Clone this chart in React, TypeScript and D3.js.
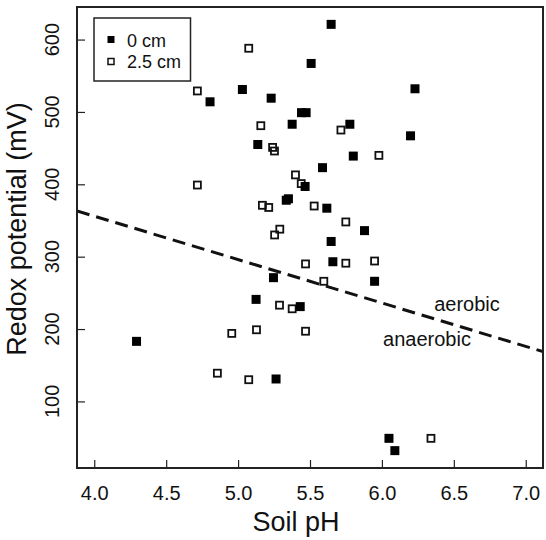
import React, { useEffect, useRef } from 'react';
import * as d3 from 'd3';

// 0 cm depth (filled squares): soil pH, redox potential (mV)
const phTop = [4.805, 5.03, 5.23, 5.137, 5.647, 5.508, 6.23, 5.441, 5.473, 5.376, 5.777, 6.199, 5.801, 5.587, 5.466, 5.335, 5.35, 5.617, 5.879, 5.647, 5.659, 5.246, 5.949, 5.432, 5.125, 4.294, 5.264, 6.049, 6.09];
const ehTop = [514, 531, 519, 455, 621, 567, 532, 499, 499, 483, 483, 467, 439, 423, 397, 378, 380, 367, 336, 321, 293, 271, 266, 231, 241, 183, 131, 49, 32];

// 2.5 cm depth (open squares)
const phDeep = [5.074, 4.717, 5.158, 5.24, 5.253, 4.717, 5.169, 5.213, 5.254, 5.29, 5.715, 5.979, 5.399, 5.439, 5.529, 5.749, 5.469, 5.749, 5.949, 5.596, 5.288, 5.376, 5.469, 4.956, 5.128, 4.856, 5.074, 6.341];
const ehDeep = [588, 529, 481, 451, 446, 399, 371, 368, 330, 338, 475, 440, 413, 401, 370, 348, 290, 291, 294, 266, 233, 228, 197, 194, 199, 139, 130, 49];

const xTicks = [4.0, 4.5, 5.0, 5.5, 6.0, 6.5, 7.0];
const yTicks = [100, 200, 300, 400, 500, 600];

// aerobic / anaerobic boundary: Eh = intercept + slope * pH
const lineIntercept = 596;
const lineSlope = -60;

const FONT = 'Liberation Sans, Arial, Helvetica, sans-serif';

const App = () => {
  const ref = useRef<SVGSVGElement>(null);

  useEffect(() => {
    const svg = d3.select(ref.current);
    svg.selectAll('*').remove();

    const left = 77, right = 543, top = 7, bottom = 468;

    const x = d3.scaleLinear().domain([3.88, 7.12]).range([left, right]);
    const y = d3.scaleLinear().domain([8, 645]).range([bottom, top]);

    svg.append('defs').append('clipPath').attr('id', 'plot-clip')
      .append('rect')
      .attr('x', left).attr('y', top)
      .attr('width', right - left).attr('height', bottom - top);

    // x axis, ticks pointing inward
    const xAxis = svg.append('g')
      .attr('transform', `translate(0,${bottom})`)
      .call(d3.axisBottom(x).tickValues(xTicks).tickFormat(d3.format('.1f')).tickSize(-8).tickPadding(18));
    xAxis.select('.domain').remove();
    xAxis.selectAll('line').attr('stroke', '#222').attr('stroke-width', 1.2);
    xAxis.selectAll('text')
      .attr('font-family', FONT).attr('font-size', 20).attr('fill', '#111');

    // y axis, ticks inward, labels rotated
    const yAxis = svg.append('g')
      .attr('transform', `translate(${left},0)`)
      .call(d3.axisLeft(y).tickValues(yTicks).tickSize(-8).tickFormat(() => ''));
    yAxis.select('.domain').remove();
    yAxis.selectAll('line').attr('stroke', '#222').attr('stroke-width', 1.2);

    svg.append('g').selectAll('text')
      .data(yTicks)
      .enter()
      .append('text')
      .attr('transform', d => `translate(59,${y(d)}) rotate(-90)`)
      .attr('text-anchor', 'middle')
      .attr('font-family', FONT)
      .attr('font-size', 20)
      .attr('fill', '#111')
      .text(d => d);

    // boundary line
    const lineData = x.domain().map(v => [v, lineIntercept + lineSlope * v]);
    svg.append('path')
      .attr('clip-path', 'url(#plot-clip)')
      .attr('d', d3.line().x(d => x(d[0])).y(d => y(d[1]))(lineData as [number, number][]))
      .attr('fill', 'none')
      .attr('stroke', '#111')
      .attr('stroke-width', 3)
      .attr('stroke-dasharray', '13,7');

    const s = 9;
    // open squares (2.5 cm)
    svg.append('g').selectAll('rect')
      .data(phDeep.map((p, i) => [p, ehDeep[i]]))
      .enter()
      .append('rect')
      .attr('x', d => x(d[0]) - (s - 2) / 2)
      .attr('y', d => y(d[1]) - (s - 2) / 2)
      .attr('width', s - 2)
      .attr('height', s - 2)
      .attr('fill', 'none')
      .attr('stroke', '#111')
      .attr('stroke-width', 1.8);

    // filled squares (0 cm)
    svg.append('g').selectAll('rect')
      .data(phTop.map((p, i) => [p, ehTop[i]]))
      .enter()
      .append('rect')
      .attr('x', d => x(d[0]) - s / 2)
      .attr('y', d => y(d[1]) - s / 2)
      .attr('width', s)
      .attr('height', s)
      .attr('fill', '#000');

    // frame
    svg.append('rect')
      .attr('x', left).attr('y', top)
      .attr('width', right - left).attr('height', bottom - top)
      .attr('fill', 'none')
      .attr('stroke', '#222')
      .attr('stroke-width', 2);

    // region labels
    svg.append('text')
      .attr('x', 467).attr('y', 311)
      .attr('text-anchor', 'middle')
      .attr('font-family', FONT).attr('font-size', 20).attr('fill', '#111')
      .text('aerobic');
    svg.append('text')
      .attr('x', 427).attr('y', 346)
      .attr('text-anchor', 'middle')
      .attr('font-family', FONT).attr('font-size', 20).attr('fill', '#111')
      .text('anaerobic');

    // legend
    const legend = svg.append('g');
    legend.append('rect')
      .attr('x', 94).attr('y', 18).attr('width', 96.5).attr('height', 63)
      .attr('fill', 'white').attr('stroke', '#222').attr('stroke-width', 1.5);
    legend.append('rect')
      .attr('x', 107.5).attr('y', 36).attr('width', 7).attr('height', 7).attr('fill', '#000');
    legend.append('rect')
      .attr('x', 108).attr('y', 58.5).attr('width', 6).attr('height', 6)
      .attr('fill', 'none').attr('stroke', '#111').attr('stroke-width', 1.5);
    legend.append('text')
      .attr('x', 127).attr('y', 46.5)
      .attr('font-family', FONT).attr('font-size', 18).attr('fill', '#111')
      .text('0 cm');
    legend.append('text')
      .attr('x', 127).attr('y', 68)
      .attr('font-family', FONT).attr('font-size', 18).attr('fill', '#111')
      .text('2.5 cm');

    // axis titles
    svg.append('text')
      .attr('x', 296).attr('y', 531)
      .attr('text-anchor', 'middle')
      .attr('font-family', FONT).attr('font-size', 27).attr('fill', '#111')
      .text('Soil pH');
    svg.append('text')
      .attr('transform', 'translate(26,229) rotate(-90)')
      .attr('text-anchor', 'middle')
      .attr('font-family', FONT).attr('font-size', 27).attr('fill', '#111')
      .text('Redox potential (mV)');
  }, []);

  return (
    <svg
      ref={ref}
      width={546}
      height={540}
      style={{ position: 'absolute', left: 0, top: 0, background: 'white' }}
    />
  );
};

export default App;
